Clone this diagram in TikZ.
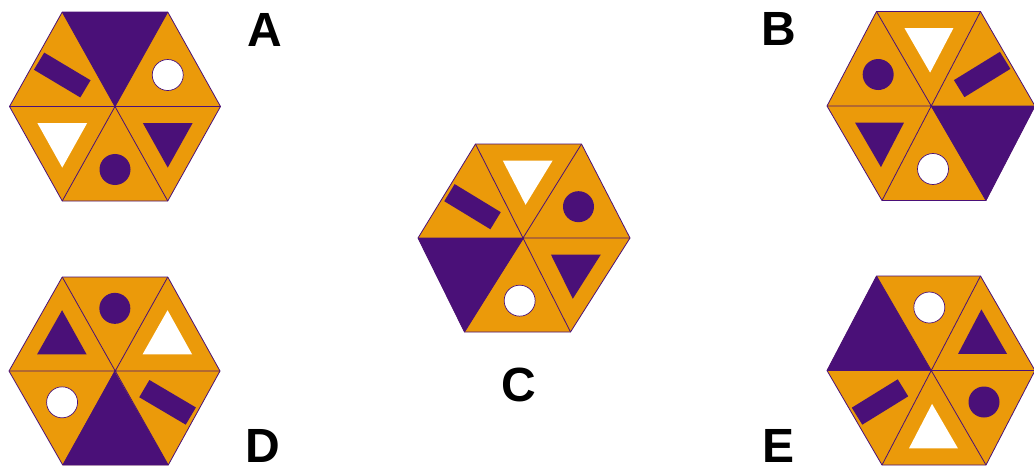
\documentclass[tikz,border=0pt]{standalone}
\usepackage{fontspec}
\setmainfont{Liberation Sans}
\usetikzlibrary{calc}
\definecolor{hor}{HTML}{EB9A0A}
\definecolor{hpu}{HTML}{4A1078}
\tikzset{
  edge/.style={draw=hpu, line width=0.8pt, line join=round},
  pdot/.style={fill=hpu},
  wdot/.style={fill=white, draw=hpu, line width=0.7pt},
  barshape/.style={draw=hpu, line width=20pt},
  lab/.style={font=\bfseries\fontsize{48}{48}\selectfont, text=black, inner sep=0pt}
}
% name, cx, cy, R, H, top shift, bottom shift
\newcommand\hexpts[7]{%
  \coordinate (#1-c)  at (#2,#3);
  \coordinate (#1-L)  at ({#2-#4},#3);
  \coordinate (#1-R)  at ({#2+#4},#3);
  \coordinate (#1-TL) at ({#2+#6-#4/2},{#3-#5});
  \coordinate (#1-TR) at ({#2+#6+#4/2},{#3-#5});
  \coordinate (#1-BL) at ({#2+#7-#4/2},{#3+#5});
  \coordinate (#1-BR) at ({#2+#7+#4/2},{#3+#5});
  \fill[hor] (#1-L) -- (#1-TL) -- (#1-TR) -- (#1-R) -- (#1-BR) -- (#1-BL) -- cycle;
}
\newcommand\hexedges[1]{%
  \draw[edge] (#1-L) -- (#1-TL) -- (#1-TR) -- (#1-R) -- (#1-BR) -- (#1-BL) -- cycle;
  \draw[edge] (#1-L) -- (#1-R) (#1-TL) -- (#1-BR) (#1-TR) -- (#1-BL);
}
\newcommand\pieceF[3]{\fill[hpu] (#1) -- (#2) -- (#3) -- cycle;}
\newcommand\piecePC[3]{\fill[pdot] (g) circle[radius=15.5pt];}
\newcommand\pieceWC[3]{\draw[wdot] (g) circle[radius=15.5pt];}
\newcommand\piecePT[3]{\fill[hpu] ($(g)!0.47!(#1)$) -- ($(g)!0.47!(#2)$) -- ($(g)!0.47!(#3)$) -- cycle;}
\newcommand\pieceWT[3]{\fill[white] ($(g)!0.47!(#1)$) -- ($(g)!0.47!(#2)$) -- ($(g)!0.47!(#3)$) -- cycle;}
\newcommand\pieceB[3]{\draw[barshape] ($(g)!27pt!(#3)$) -- ($(g)!-27pt!(#3)$);}
% hexagon name, outer1, outer2, type
\newcommand\tile[4]{%
  \coordinate (g) at ($0.3333*(#1-#2)+0.3333*(#1-#3)+0.3334*(#1-c)$);
  \csname piece#4\endcsname{#1-#2}{#1-#3}{#1-c}%
}
\begin{document}
\begin{tikzpicture}[x=1pt,y=-1pt]
\useasboundingbox (0,0) rectangle (1034,467);
\fill[white] (0,0) rectangle (1034,467);

% A
\hexpts{A}{115}{106.5}{105.5}{94.5}{0}{0}
\tile{A}{TL}{TR}{F}
\tile{A}{TR}{R}{WC}
\tile{A}{R}{BR}{PT}
\tile{A}{BR}{BL}{PC}
\tile{A}{BL}{L}{WT}
\tile{A}{L}{TL}{B}
\hexedges{A}

% B
\hexpts{B}{931}{106}{104}{94.5}{-2.5}{3}
\tile{B}{TL}{TR}{WT}
\tile{B}{TR}{R}{B}
\tile{B}{R}{BR}{F}
\tile{B}{BR}{BL}{WC}
\tile{B}{BL}{L}{PT}
\tile{B}{L}{TL}{PC}
\hexedges{B}

% C
\hexpts{C}{524}{238}{106}{94}{4.5}{-6.5}
\tile{C}{TL}{TR}{WT}
\tile{C}{TR}{R}{PC}
\tile{C}{R}{BR}{PT}
\tile{C}{BR}{BL}{WC}
\tile{C}{BL}{L}{F}
\tile{C}{L}{TL}{B}
\hexedges{C}

% D
\hexpts{D}{114.5}{371}{105.5}{94}{0.5}{1}
\tile{D}{TL}{TR}{PC}
\tile{D}{TR}{R}{WT}
\tile{D}{R}{BR}{B}
\tile{D}{BR}{BL}{F}
\tile{D}{BL}{L}{WC}
\tile{D}{L}{TL}{PT}
\hexedges{D}

% E
\hexpts{E}{931}{370.5}{104}{94.5}{-2.5}{3}
\tile{E}{TL}{TR}{WC}
\tile{E}{TR}{R}{PT}
\tile{E}{R}{BR}{PC}
\tile{E}{BR}{BL}{WT}
\tile{E}{BL}{L}{B}
\tile{E}{L}{TL}{F}
\hexedges{E}

\node[lab] (labA) at (265,30) {A};
\node[lab] (labB) at (779,29) {B};
\node[lab] (labC) at (519,385) {C};
\node[lab] (labD) at (263,446) {D};
\node[lab] (labE) at (779,446) {E};
\end{tikzpicture}
\end{document}
